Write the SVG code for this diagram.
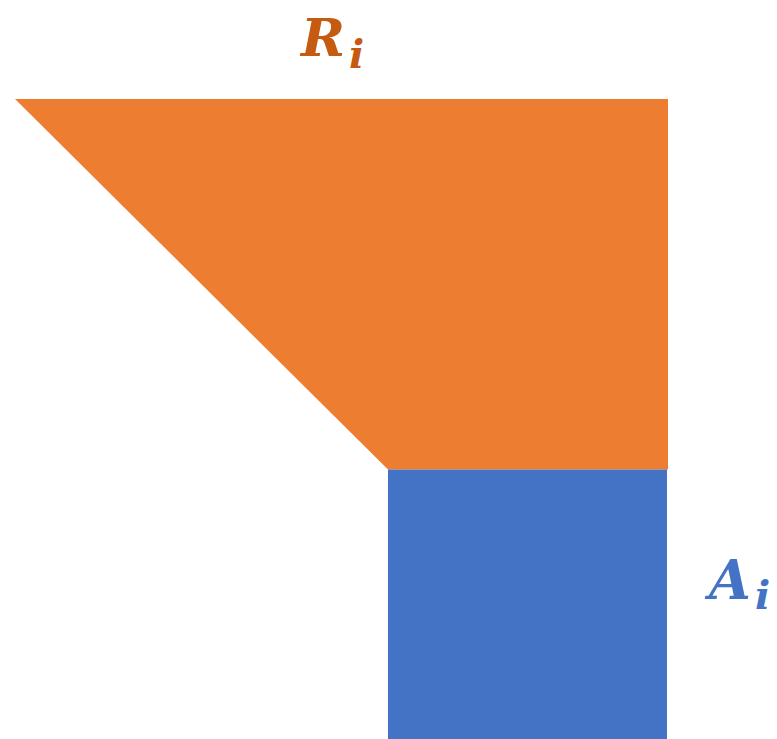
<svg xmlns="http://www.w3.org/2000/svg" width="777" height="739" viewBox="0 0 777 739">
<style>
.lbl{font-family:"DejaVu Serif","Liberation Serif",serif;font-weight:bold;font-style:italic}
</style>
<rect width="777" height="739" fill="#ffffff"/>
<g id="R">
<polygon points="15,99 668,99 668,469.5 388,469.5" fill="#ED7D31"/>
<text class="lbl" x="301" y="56" font-size="53" fill="#C55A11">R</text>
<text class="lbl" x="349" y="68" font-size="40" fill="#C55A11">i</text>
</g>
<g id="A">
<rect x="388" y="469.5" width="279" height="269.5" fill="#4472C4"/>
<text class="lbl" x="709" y="599" font-size="54" fill="#4472C4">A</text>
<text class="lbl" x="755" y="609" font-size="40" fill="#4472C4">i</text>
</g>
<g id="connectors"/>
</svg>
